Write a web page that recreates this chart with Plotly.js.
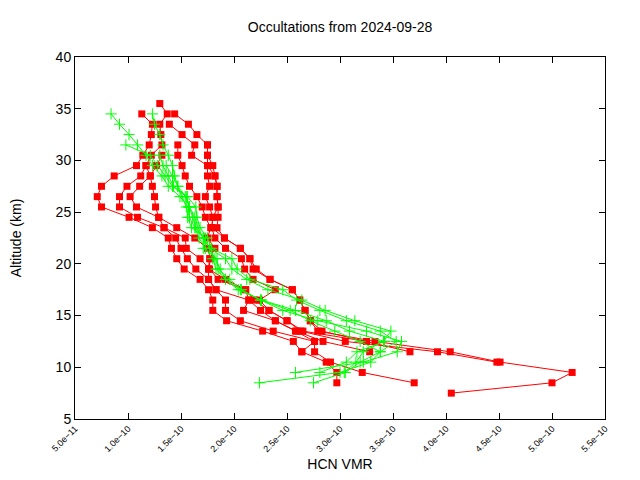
<!DOCTYPE html>
<html>
<head>
<meta charset="utf-8">
<script src="https://cdn.plot.ly/plotly-3.0.1.min.js"></script>
<style>html,body{margin:0;padding:0;background:#fff;}#chart{width:640px;height:480px;}</style>
</head>
<body>
<div id="chart"></div>
<script>
// VMR values are given in units of 1e-10
const UNIT = 1e-10;

// Red profiles: top altitude (km), 1 km steps downward, and VMR values
const red1Top = 34.5;
const red1 = [1.13,1.23,1.22,1.20,1.14,1.08,0.87,0.75,0.71,0.75,1.01,1.23,1.38,1.41,1.46,1.53,1.68,1.76,1.80,1.80,1.93,2.27,2.56,2.64,2.87,2.97,2.97];
const red2Top = 35.5;
const red2 = [1.30,1.37,1.30,1.31,1.32,1.22,1.17,1.12,0.99,0.92,0.92,1.09,1.34,1.45,1.50,1.56,1.64,1.76,1.83,1.92,1.92,2.06,2.37,2.76,2.76,2.91,3.21,3.70];
const red3Top = 34.5;
const red3 = [1.44,1.57,1.65,1.75,1.75,1.80,1.82,1.84,1.84,1.85,1.85,1.84,1.91,2.06,2.15,2.18,2.34,2.55,2.62,2.67,2.72,2.79,3.33,4.04,4.51,5.19,5.00,4.05];
const red4Top = 33.5;
const red4 = [1.39,1.51,1.63,1.60,1.75,1.75,1.77,1.73,1.77,1.80,1.79,1.82,1.92,2.07,2.10,2.18,2.39,2.24,2.33,2.50,2.63,3.05,3.92,4.48];
const red5Top = 30.5;
const red5 = [1.32,1.27,1.21,1.23,1.25,1.26,1.29,1.46,1.63,1.75,1.78,1.76,1.76,1.83,2.14,2.25,2.39,2.59,2.84,3.28];
const red6Top = 31.5;
const red6 = [1.47,1.47,1.51,1.54,1.58,1.65,1.70,1.73,1.78,1.75,1.82,1.77,1.76,1.92,2.11,2.14,2.09,2.39,2.58,2.76,2.64];
const red7Top = 29.5;
const red7 = [1.17,1.21,1.11,1.02,1.08,1.29,1.34,1.54,1.55,1.68,1.77,1.85,2.11,2.19,2.33,2.50,2.65,3.25];
const red8Top = 31.5;
const red8 = [1.75,1.75,1.75,1.82,1.84,1.84,1.85,1.80,1.79,1.91,2.06,2.15,2.21,2.34,2.55,2.62,2.67,2.72,2.83,3.25,3.66];

// Green profiles
const green1Top = 34.5;
const green1 = [0.84,0.92,1.01,1.09,1.17,1.23,1.32,1.38,1.49,1.57,1.56,1.60,1.73,1.71,1.84,1.85,1.96,2.07,2.25,2.46,2.79,3.25,3.58,3.54,3.22,2.58];
const green2Top = 31.5;
const green2 = [0.98,1.21,1.28,1.35,1.42,1.56,1.64,1.65,1.68,1.75,1.79,1.98,2.03,2.15,2.46,2.59,2.81,3.06,3.38,3.53,3.38,3.29,3.00,2.24];
const green3Top = 34.5;
const green3 = [1.23,1.25,1.30,1.33,1.38,1.42,1.44,1.47,1.54,1.58,1.61,1.64,1.71,1.77,1.82,1.87,1.92,2.06,2.25,2.53,2.72,2.95,3.19,3.38,3.19,3.05,2.75];
const green4Top = 29.5;
const green4 = [1.36,1.42,1.47,1.51,1.55,1.58,1.63,1.67,1.73,1.80,1.83,1.92,2.04,2.26,2.58,2.87,3.09,3.42,3.16,3.06,2.81];
const green5Top = 30.5;
const green5 = [1.30,1.33,1.38,1.43,1.55,1.58,1.63,1.66,1.71,1.77,1.92,1.98,2.12,2.32,2.64,2.86,3.14,3.48,3.41,3.22,3.15,3.04];

const redSets = [[red1Top,red1],[red2Top,red2],[red3Top,red3],[red4Top,red4],[red5Top,red5],[red6Top,red6],[red7Top,red7],[red8Top,red8]];
const greenSets = [[green1Top,green1],[green2Top,green2],[green3Top,green3],[green4Top,green4],[green5Top,green5]];

function altitudes(top, n){ const a=[]; for(let i=0;i<n;i++) a.push(top - i); return a; }

const traces = [];
redSets.forEach(([top, v]) => {
  traces.push({
    x: v.map(d => d*UNIT), y: altitudes(top, v.length),
    mode: 'lines+markers', type: 'scatter', showlegend: false, hoverinfo: 'skip',
    line: {color: '#ff0000', width: 1},
    marker: {symbol: 'square', size: 7, color: '#ff0000'}
  });
});
greenSets.forEach(([top, v]) => {
  traces.push({
    x: v.map(d => d*UNIT), y: altitudes(top, v.length),
    mode: 'lines+markers', type: 'scatter', showlegend: false, hoverinfo: 'skip',
    line: {color: '#00ff00', width: 1},
    marker: {symbol: 'cross-thin', size: 8, color: '#00ff00', line: {color: '#00ff00', width: 1}}
  });
});

const font = 'Liberation Sans, Arial, sans-serif';
const layout = {
  width: 640, height: 480,
  paper_bgcolor: '#ffffff', plot_bgcolor: '#ffffff',
  margin: {l: 75, r: 35, t: 57, b: 61},
  font: {family: font, color: '#000000'},
  title: {text: 'Occultations from 2024-09-28', font: {size: 14, family: font, color: '#000'},
          x: 0.5, xanchor: 'center', y: 0.944, yanchor: 'middle', xref: 'paper', yref: 'container'},
  xaxis: {
    range: [5e-11, 5.5e-10], tick0: 5e-11, dtick: 5e-11, tickformat: '.1e',
    ticks: 'inside', ticklen: 6, tickcolor: '#000', showline: true, mirror: 'ticks',
    linecolor: '#000', linewidth: 1, showgrid: false, zeroline: false,
    tickangle: -45, tickfont: {size: 9, family: font},
    title: {text: 'HCN VMR', font: {size: 14, family: font}, standoff: 6}
  },
  yaxis: {
    range: [5, 40], tick0: 5, dtick: 5,
    ticks: 'inside', ticklen: 6, tickcolor: '#000', showline: true, mirror: 'ticks',
    linecolor: '#000', linewidth: 1, showgrid: false, zeroline: false,
    tickfont: {size: 14, family: font},
    title: {text: 'Altitude (km)', font: {size: 14, family: font}, standoff: 30}
  }
};
Plotly.newPlot('chart', traces, layout, {displayModeBar: false, staticPlot: true});
</script>
</body>
</html>
